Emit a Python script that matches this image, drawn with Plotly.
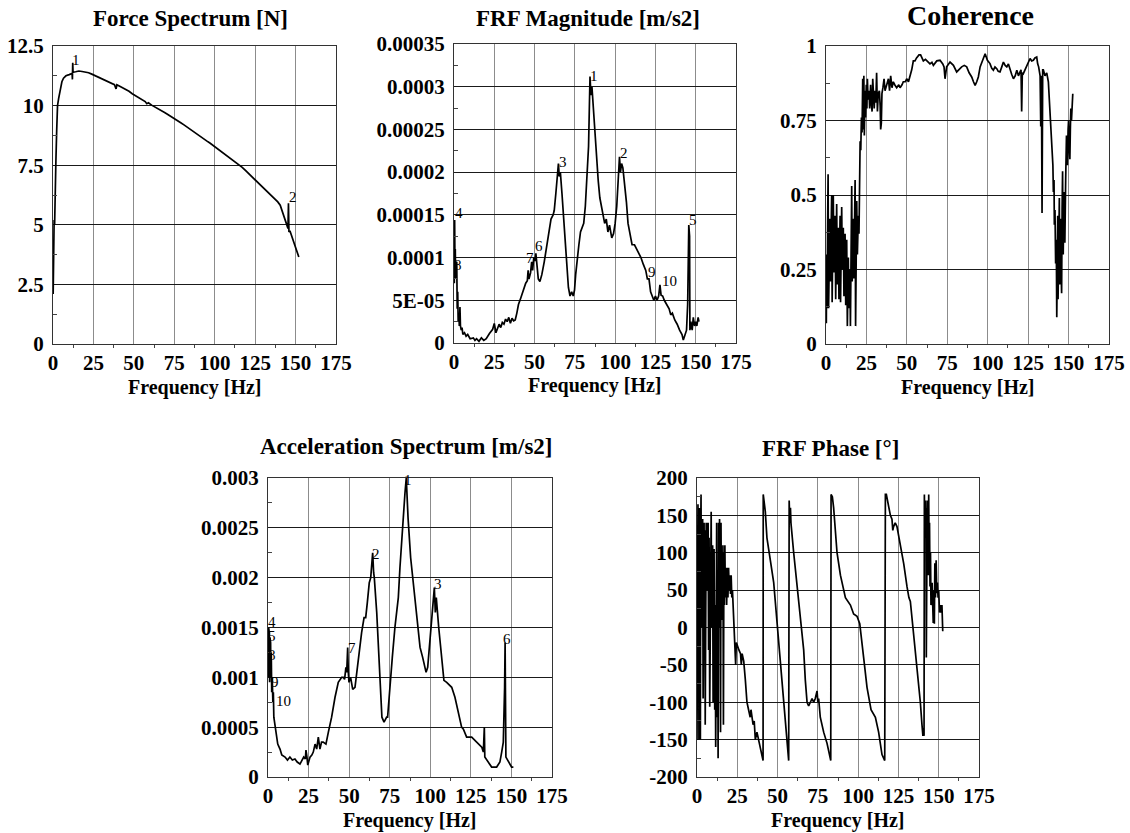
import plotly.graph_objects as go

# ---------------- data ----------------
force_points = [(0.1,2.1),(0.3,5.0),(0.5,2.5),(0.7,5.2),(1.0,5.0),(1.4,7.6),(1.8,7.7),(2.3,9.0),(2.8,10.0),
 (3.5,10.3),(4.5,10.7),(5.5,11.0),(6.5,11.15),(8.0,11.25),(10.0,11.3),(11.8,11.35),(12.0,11.1),(12.2,11.8),
 (12.4,11.4),(14,11.42),(16,11.45),(18,11.43),(20,11.42),(22,11.38),(24,11.32),(26,11.26),(28,11.2),(30,11.14),
 (32,11.07),(34,11.0),(36,10.94),(38,10.88),(39,10.7),(39.5,10.87),(41,10.82),(43,10.75),(45,10.68),(47,10.6),
 (49,10.5),(51,10.42),(53,10.33),(55,10.25),(57,10.17),(58,10.08),(59,10.12),(61,10.02),(63,9.95),(65,9.87),
 (67,9.79),(69,9.71),(71,9.63),(73,9.55),(75,9.47),(77,9.38),(79,9.28),(81,9.19),(83,9.09),(85,9.0),(87,8.9),
 (89,8.81),(91,8.71),(93,8.62),(95,8.52),(97,8.43),(99,8.33),(101,8.23),(103,8.13),(105,8.03),(107,7.93),
 (109,7.83),(111,7.73),(113,7.63),(115,7.53),(117,7.41),(119,7.28),(121,7.15),(123,7.01),(125,6.88),(127,6.75),
 (129,6.62),(131,6.49),(133,6.36),(135,6.23),(137,6.1),(139,5.96),(140.5,5.82),(141.5,5.62),(142.5,5.4),
 (143.5,5.2),(144.5,5.0),(145.3,4.85),(145.6,5.9),(145.9,4.7),(146.5,4.75),(147.5,4.55),(148.5,4.3),
 (149.5,4.1),(150.5,3.9),(151.5,3.72),(152,3.65)]

# FRF magnitude, values in units of 1e-5 m/s2
frf_points = [(0.2,7),(0.4,14.4),(0.6,9),(0.8,11),(1.0,7.5),(1.2,10.5),(1.4,8),(1.7,9.5),(2.0,4),(2.3,6),
 (2.6,2.5),(3.0,3.5),(3.3,2),(3.7,4.2),(4.0,2),(4.5,1.5),(5.0,1.8),(5.5,1),(6.5,1.2),(7.5,0.8),(8.5,1),(10,0.5),
 (12,0.6),(13,0.3),(14,0.5),(15.5,0.2),(17,0.6),(18.5,0.3),(20,0.5),(21,0.9),(22,1.1),(24,1.6),(25,2.3),(26,1.2),
 (27,1.6),(28,2.2),(29,1.8),(30,2.4),(31,2.2),(32,2.8),(33,2.5),(34,3.0),(35,2.3),(36,2.9),(37,2.6),(38,2.7),
 (39,3.5),(40,4.5),(41.5,5.3),(43,6.2),(44.5,7.0),(45.5,7.3),(46,8.5),(46.5,7.5),(47.5,8.2),(48.2,9.5),
 (48.8,8.5),(49.5,10.0),(50.2,9.6),(50.8,10.5),(51.5,9.0),(52.3,7.5),(53.3,7.2),(54.5,8.0),(56,9.5),(57.5,11.5),
 (59,13),(60.2,14.5),(61.5,15.0),(62.2,15.5),(63.2,17.5),(64.2,19.5),(64.8,21.0),(65.3,19.5),(66,20.0),(67,17.5),
 (68,15),(69,12),(70,9),(71,6.5),(72,5.5),(73,6.0),(74,5.5),(74.8,6.2),(75.5,8),(76.5,10),(77.5,11.5),(78.5,13),
 (79.5,13.5),(80.5,14),(81.5,16),(82.5,19),(83.5,23),(84.4,31.2),(85.0,29),(85.6,30.0),(86.5,27.5),(87.5,24),
 (88.5,21.5),(89.5,19),(90.5,17),(91.5,16),(92.5,15),(93.5,14),(94.5,14.5),(95.5,13),(96.5,13.8),(97.9,12.3),
 (99,12.8),(100,14),(101,16),(102,19),(102.7,21.8),(103.3,20),(104,21),(104.8,20.5),(106,18.5),(107,16.5),
 (108,14),(109.5,12.5),(110.5,11.5),(112,11.5),(113.5,11.0),(114.5,10.5),(116,10),(117.5,9.2),(119,8.5),
 (120,7.5),(121,7.5),(122,6.0),(123,5.5),(124,5.0),(125,5.5),(126,5.0),(127,5.5),(127.8,6.8),(128.5,5.6),
 (129.5,5.5),(130.5,5.0),(132,4.5),(133.5,4.0),(134.5,3.3),(135.5,3.5),(137,2.7),(138.5,2.2),(140,1.5),
 (141.5,1.0),(142.3,0.35),(143.3,1.0),(144.3,1.5),(145,4.5),(145.3,13.5),(145.7,13.8),(146.2,12.5),(146.4,1.5),
 (147,2.5),(147.8,1.5),(148.5,3.0),(149.3,2.0),(150,2.5),(150.7,2.0),(151.5,3.0),(152,2.5)]

coh_points = [(0.2,0.07),(0.4,0.30),(0.7,0.12),(1.0,0.40),(1.3,0.57),(1.6,0.12),(2.0,0.35),(2.4,0.42),
 (2.7,0.21),(3.1,0.38),(3.5,0.50),(3.8,0.14),(4.2,0.30),(4.5,0.50),(4.9,0.24),(5.3,0.38),(5.6,0.43),(6.0,0.15),
 (6.3,0.30),(6.6,0.47),(7.0,0.20),(7.3,0.35),(7.6,0.39),(8.0,0.15),(8.3,0.28),(8.7,0.43),(9.0,0.14),(9.4,0.30),
 (9.7,0.46),(10.1,0.25),(10.4,0.30),(10.7,0.39),(11.1,0.16),(11.5,0.25),(11.8,0.37),(12.2,0.13),(12.5,0.22),
 (12.8,0.35),(13.2,0.06),(13.5,0.20),(13.8,0.29),(14.1,0.12),(14.4,0.25),(14.8,0.24),(15.1,0.06),(15.4,0.30),
 (15.9,0.53),(16.2,0.21),(16.5,0.35),(16.9,0.42),(17.2,0.22),(17.6,0.40),(18.0,0.55),(18.3,0.06),(18.7,0.35),
 (19.0,0.48),(19.4,0.30),(19.7,0.40),(20.0,0.43),(20.4,0.37),(20.8,0.55),(21.1,0.68),(21.5,0.65),(21.9,0.76),
 (22.3,0.71),(22.7,0.89),(23.0,0.72),(23.4,0.90),(23.7,0.70),(24.1,0.85),(24.5,0.76),(24.9,0.87),(25.3,0.79),
 (25.6,0.89),(26.0,0.82),(26.6,0.85),(27.0,0.79),(27.6,0.87),(28.0,0.81),(28.5,0.78),(28.9,0.89),(29.4,0.82),
 (29.8,0.79),(30.3,0.85),(30.8,0.81),(31.3,0.91),(31.8,0.78),(32.3,0.84),(33.0,0.85),(33.5,0.80),(33.8,0.72),
 (34.2,0.74),(34.6,0.84),(35.2,0.86),(35.9,0.89),(36.5,0.85),(37.5,0.87),(38.6,0.89),(39.3,0.85),(40.0,0.90),
 (40.8,0.86),(41.6,0.88),(42.5,0.87),(43.7,0.86),(45.0,0.87),(45.8,0.86),(47.0,0.87),(47.8,0.88),(49.0,0.88),
 (49.9,0.89),(51.0,0.88),(52.0,0.90),(53.0,0.92),(54.0,0.95),(55.0,0.95),(56.0,0.96),(57.5,0.97),(58.5,0.97),
 (60.2,0.95),(61.5,0.955),(62.3,0.95),(64.3,0.94),(65.5,0.945),(66.4,0.935),(68.5,0.95),(70.5,0.952),
 (72.2,0.94),(73.0,0.93),(73.6,0.89),(74.6,0.93),(76.7,0.946),(78.8,0.935),(80.8,0.913),(82.0,0.92),(83.9,0.93),
 (85.5,0.935),(87.0,0.93),(88.5,0.91),(90.1,0.896),(91.2,0.88),(92.2,0.868),(93.2,0.88),(94.2,0.896),
 (95.3,0.93),(96.3,0.946),(97.4,0.96),(98.4,0.974),(99.8,0.952),(101.4,0.941),(102.5,0.925),(103.5,0.919),
 (104.5,0.93),(105.6,0.924),(106.5,0.915),(107.6,0.913),(108.7,0.93),(109.7,0.946),(110.8,0.935),(111.8,0.93),
 (112.8,0.94),(113.8,0.919),(114.8,0.905),(115.9,0.89),(117.0,0.90),(118.0,0.919),(119.0,0.90),(120.0,0.913),
 (120.6,0.92),(121.0,0.78),(121.4,0.91),(122.0,0.907),(123.0,0.92),(124.1,0.93),(125.2,0.945),(126.2,0.958),
 (127.2,0.95),(128.2,0.952),(129.2,0.96),(130.3,0.963),(130.9,0.94),(131.5,0.93),(132.4,0.90),(132.8,0.73),
 (133.2,0.90),(133.6,0.44),(134.0,0.92),(134.4,0.92),(135.4,0.90),(136.5,0.91),(137.5,0.88),(138.5,0.79),
 (139.6,0.65),(140.3,0.60),(140.6,0.51),(141.0,0.55),(141.2,0.40),(141.6,0.45),(142.0,0.27),(142.4,0.35),
 (142.7,0.09),(143.0,0.30),(143.3,0.43),(143.5,0.15),(143.7,0.23),(144.0,0.38),(144.3,0.49),(144.5,0.20),
 (144.7,0.25),(145.0,0.42),(145.3,0.40),(145.5,0.22),(145.7,0.17),(146.0,0.45),(146.3,0.58),(146.5,0.35),
 (146.7,0.30),(147.0,0.45),(147.3,0.51),(147.5,0.40),(147.7,0.34),(148.2,0.55),(148.7,0.70),(149.0,0.62),
 (149.3,0.60),(149.7,0.72),(150.0,0.75),(150.4,0.65),(150.8,0.62),(151.1,0.72),(151.4,0.79),(151.8,0.75),
 (152.2,0.82),(152.6,0.84)]

# Acceleration spectrum, values in units of 1e-3 m/s2
acc_points = [(0.2,1.0),(0.4,1.5),(0.6,1.1),(0.8,1.45),(1.0,0.95),(1.2,1.4),(1.4,1.2),(1.6,1.35),(1.8,1.0),
 (2.0,1.25),(2.3,0.85),(2.6,1.0),(3.0,0.75),(3.3,0.85),(3.6,0.6),(4.0,0.55),(4.3,0.5),(4.8,0.45),(5.3,0.4),
 (6.0,0.33),(7.4,0.28),(8.5,0.22),(10.5,0.2),(12.0,0.17),(13.5,0.2),(15.0,0.17),(16.6,0.18),(18.0,0.15),
 (19.7,0.13),(21.0,0.17),(22.0,0.2),(23.0,0.18),(23.4,0.27),(24.0,0.2),(24.5,0.12),(25.9,0.2),(27.0,0.22),
 (27.9,0.25),(29.0,0.33),(30.0,0.28),(31.0,0.4),(32.0,0.28),(33.0,0.35),(34.0,0.35),(35.7,0.33),(37.2,0.45),
 (39.2,0.6),(41.3,0.8),(43.3,0.95),(45.4,1.0),(46.4,1.0),(47.2,0.98),(48.0,1.1),(48.5,1.05),(49.1,1.3),
 (49.5,1.05),(49.9,0.95),(50.9,1.0),(52.2,0.88),(53.6,0.9),(54.6,1.05),(56.3,1.25),(57.7,1.45),(59.2,1.6),
 (60.2,1.6),(61.2,1.75),(62.4,1.95),(63.3,2.0),(63.9,2.1),(64.5,2.25),(65.1,2.05),(65.5,2.0),(67.0,1.65),
 (68.4,1.2),(69.2,0.85),(70.2,0.6),(71.5,0.55),(73.1,0.6),(73.7,0.6),(75.2,0.95),(76.6,1.2),(78.2,1.5),
 (80.3,1.8),(81.3,2.1),(82.4,2.4),(83.8,2.7),(84.4,2.85),(85.2,3.0),(85.6,2.75),(86.3,2.6),(87.9,2.2),
 (89.5,1.95),(91.6,1.6),(93.7,1.3),(95.3,1.2),(97.4,1.05),(98.4,1.1),(99.8,1.4),(101.3,1.7),(102.5,1.9),
 (103.1,1.65),(103.7,1.8),(105.2,1.5),(106.8,1.2),(108.4,0.97),(110.1,0.95),(113.2,0.9),(115.2,0.8),
 (117.3,0.65),(119.3,0.5),(120.4,0.48),(122.4,0.4),(125.5,0.4),(128.6,0.35),(131.7,0.3),(132.7,0.25),
 (133.3,0.5),(133.6,0.2),(135.8,0.15),(137.8,0.1),(140.9,0.1),(142.9,0.15),(144.0,0.25),(145.0,0.35),
 (145.8,0.9),(146.1,1.35),(146.6,0.2),(148.1,0.15),(150.1,0.1),(151.2,0.1)]

phase_points = [(0.0,-150),(0.2,160),(0.4,-60),(0.6,165),(0.8,0),(1.0,150),(1.2,-150),(1.4,100),(1.6,160),
 (1.9,0),(2.1,-150),(2.3,120),(2.5,178),(2.8,0),(3.1,140),(3.3,60),(3.5,145),(3.8,-95),(4.1,100),(4.4,140),
 (4.6,0),(4.8,130),(5.1,-130),(5.4,80),(5.7,140),(6.0,50),(6.3,140),(6.6,60),(6.9,140),(7.2,-30),(7.5,120),
 (7.9,-106),(8.2,50),(8.5,100),(8.8,155),(9.1,0),(9.4,60),(9.7,110),(10.0,-100),(10.3,30),(10.6,105),
 (11.0,-110),(11.3,30),(11.6,-160),(11.9,30),(12.2,140),(12.5,-120),(12.8,30),(13.1,-175),(13.4,140),
 (13.7,0),(14.0,145),(14.3,100),(14.6,-140),(14.9,140),(15.2,10),(15.5,100),(15.8,20),(16.1,110),(16.4,-130),
 (16.7,100),(17.0,30),(17.3,110),(17.6,40),(18.0,80),(18.4,30),(18.8,80),(19.2,40),(19.6,80),(20.0,50),
 (20.4,70),(20.8,45),(21.2,70),(21.6,40),(22.0,50),(22.5,20),(23.0,0),(23.5,-20),(24.0,-50),(24.4,-20),
 (25.0,-25),(26.0,-30),(27.0,-35),(27.5,-50),(28.0,-35),(29.0,-45),(30.0,-70),(31.0,-100),(32.0,-110),
 (33.0,-120),(33.5,-110),(34.8,-130),(35.5,-125),(36.2,-150),(37.2,-140),(38.3,-150),(39.3,-160),(40.3,-170),
 (41.0,-178),(41.1,178),(42.0,165),(42.4,155),(43.4,120),(44.5,100),(45.5,90),(47.6,60),(49.6,10),(51.7,-50),
 (53.8,-100),(55.9,-150),(56.9,-178),(57.2,170),(57.6,140),(58.0,160),(58.3,140),(60.0,100),(62.0,60),
 (64.1,20),(66.2,-30),(67.2,-70),(68.3,-100),(69.3,-105),(70.3,-100),(71.4,-95),(72.4,-100),(73.4,-95),
 (74.5,-85),(75.0,-100),(75.5,-95),(76.5,-120),(78.6,-140),(80.7,-155),(82.7,-175),(83.0,-178),(83.2,178),
 (84.0,175),(84.8,160),(86.9,100),(89.0,70),(92.1,40),(95.2,30),(97.2,18),(99.3,15),(101.0,5),(103.4,-40),
 (105.5,-80),(108.0,-110),(110.7,-120),(112.7,-140),(114.8,-170),(116.5,-178),(116.9,178),(117.5,178),
 (119.0,160),(120.0,150),(121.0,145),(121.5,130),(122.0,135),(123.0,140),(124.1,135),(126.2,110),(128.3,85),
 (130.3,55),(131.5,40),(132.4,35),(134.5,-10),(136.5,-50),(138.6,-100),(139.6,-130),(140.2,-145),(140.5,-135),
 (140.9,-145),(141.1,178),(141.4,120),(141.7,170),(141.9,140),(142.1,160),(142.3,-40),(142.5,150),(142.7,100),
 (142.9,170),(143.1,130),(143.3,150),(143.5,70),(143.8,178),(144.0,100),(144.3,140),(144.6,55),(144.9,100),
 (145.2,30),(145.6,40),(145.9,60),(146.2,20),(146.6,6),(147.0,50),(147.3,5),(147.6,86),(148.0,40),(148.4,90),
 (148.8,46),(149.2,60),(149.6,40),(150.0,50),(150.5,20),(151.0,30),(151.5,20),(152.0,30),(152.5,-5)]

# peak labels: (text, freq, value)
force_labels = [("1", 14.5, 11.9), ("2", 148.5, 6.15)]
frf_labels = [("1", 86.9, 31.3), ("2", 105.5, 22.2), ("3", 67.9, 21.2), ("4", 3.3, 15.2), ("5", 148.2, 14.4),
              ("6", 52.6, 11.4), ("7", 47.4, 9.9), ("8", 2.3, 9.1), ("9", 122.7, 8.35), ("10", 134.0, 7.2)]
acc_labels = [("1", 86.5, 2.98), ("2", 66.3, 2.24), ("3", 104.5, 1.94), ("4", 2.3, 1.56), ("5", 2.6, 1.41),
              ("6", 147.5, 1.38), ("7", 51.6, 1.29), ("8", 2.3, 1.22), ("9", 4.6, 0.95), ("10", 9.5, 0.76)]

x_ticks = [0, 25, 50, 75, 100, 125, 150, 175]
force_ticks = [0, 2.5, 5, 7.5, 10, 12.5]
frf_ticks = [0, 5e-5, 1e-4, 1.5e-4, 2e-4, 2.5e-4, 3e-4, 3.5e-4]
frf_ticktext = ["0", "5E-05", "0.0001", "0.00015", "0.0002", "0.00025", "0.0003", "0.00035"]
coh_ticks = [0, 0.25, 0.5, 0.75, 1]
acc_ticks = [0, 0.0005, 0.001, 0.0015, 0.002, 0.0025, 0.003]
acc_ticktext = ["0", "0.0005", "0.001", "0.0015", "0.002", "0.0025", "0.003"]
phase_ticks = [-200, -150, -100, -50, 0, 50, 100, 150, 200]

# ---------------- layout ----------------
W, H = 1130, 833
SERIF = "Liberation Serif, Times New Roman, serif"

def dx(a, b):
    return [a / W, b / W]

def dy(top, bottom):
    return [1 - bottom / H, 1 - top / H]

panels = [
    dict(title="Force Spectrum [N]", pts=force_points, scale=1, labels=force_labels,
         box=(53, 336, 46, 344), yr=[0, 12.5], yt=force_ticks, ytt=None, ym=1.25,
         tpos=(190, 19), tsize=23),
    dict(title="FRF Magnitude [m/s2]", pts=frf_points, scale=1e-5, labels=frf_labels,
         box=(454, 736, 44, 343), yr=[0, 3.5e-4], yt=frf_ticks, ytt=frf_ticktext, ym=2.5e-5,
         tpos=(588, 18), tsize=23),
    dict(title="Coherence", pts=coh_points, scale=1, labels=[],
         box=(826, 1109, 46, 344), yr=[0, 1], yt=coh_ticks, ytt=None, ym=0.125,
         tpos=(970, 16), tsize=28),
    dict(title="Acceleration Spectrum [m/s2]", pts=acc_points, scale=1e-3, labels=acc_labels,
         box=(268, 552, 478, 777), yr=[0, 0.003], yt=acc_ticks, ytt=acc_ticktext, ym=0.00025,
         tpos=(406, 446), tsize=23),
    dict(title="FRF Phase [°]", pts=phase_points, scale=1, labels=[],
         box=(697, 979, 478, 777), yr=[-200, 200], yt=phase_ticks, ytt=None, ym=25,
         tpos=(830, 448), tsize=23),
]

TICKFONT = dict(family=SERIF, size=21, color="black", weight="bold")

fig = go.Figure()
annotations = []
for i, p in enumerate(panels):
    k = "" if i == 0 else str(i + 1)
    xa, ya = "x" + k, "y" + k
    x0, x1, y0, y1 = p["box"]
    freqs = [f for f, v in p["pts"]]
    vals = [v * p["scale"] for f, v in p["pts"]]
    fig.add_trace(go.Scatter(x=freqs, y=vals, mode="lines", xaxis=xa, yaxis=ya,
                             line=dict(color="black", width=1.7), showlegend=False, hoverinfo="skip"))
    fig.update_layout(**{
        "xaxis" + k: dict(domain=dx(x0, x1), anchor=ya, range=[0, 175], tickvals=x_ticks,
                          showgrid=True, gridcolor="#8c8c8c", gridwidth=1, zeroline=False,
                          showline=True, linecolor="#333", linewidth=1, mirror=True,
                          ticks="", tickfont=TICKFONT, automargin=False,
                          minor=dict(tickvals=[12.5, 37.5, 62.5, 87.5, 112.5, 137.5, 162.5],
                                     ticks="outside", ticklen=3, tickcolor="#444", showgrid=False),
                          fixedrange=True),
        "yaxis" + k: dict(domain=dy(y0, y1), anchor=xa, range=p["yr"], tickvals=p["yt"],
                          ticktext=p["ytt"] if p["ytt"] else [("%g" % t) for t in p["yt"]],
                          showgrid=True, gridcolor="#1a1a1a", gridwidth=1, zeroline=False,
                          showline=True, linecolor="#333", linewidth=1, mirror=True,
                          ticks="", tickfont=TICKFONT, automargin=False, ticklabelstandoff=4,
                          minor=dict(dtick=p["ym"] * 2, tick0=p["yr"][0] + p["ym"],
                                     ticks="inside", ticklen=4, tickcolor="#444", showgrid=False),
                          fixedrange=True),
    })
    # panel title
    tx, ty = p["tpos"]
    annotations.append(dict(text="<b>%s</b>" % p["title"], x=tx / W, y=1 - ty / H, xref="paper", yref="paper",
                            xanchor="center", yanchor="middle", showarrow=False,
                            font=dict(family=SERIF, size=p["tsize"], color="black")))
    # x axis title
    annotations.append(dict(text="<b>Frequency [Hz]</b>", x=(x0 + x1) / 2 / W, y=1 - (y1 + 43) / H,
                            xref="paper", yref="paper", xanchor="center", yanchor="middle", showarrow=False,
                            font=dict(family=SERIF, size=20, color="black")))
    # peak labels
    for txt, f, v in p["labels"]:
        annotations.append(dict(text=txt, x=f, y=v * p["scale"], xref=xa, yref=ya, xanchor="center",
                                yanchor="middle", showarrow=False,
                                font=dict(family=SERIF, size=15, color="black")))

fig.update_layout(width=W, height=H, margin=dict(l=0, r=0, t=0, b=0, autoexpand=False),
                  paper_bgcolor="white", plot_bgcolor="white", annotations=annotations, showlegend=False)

# remove the default page margin so the figure starts at the window's top-left corner
fig.write_html("out.html", config={"displayModeBar": False, "staticPlot": True},
               post_script="document.body.style.margin='0px';document.body.style.overflow='hidden';")
